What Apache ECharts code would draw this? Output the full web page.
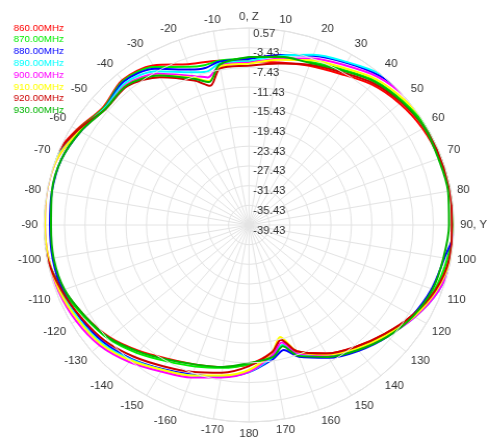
<!DOCTYPE html>
<html>
<head>
<meta charset="utf-8">
<script src="https://cdn.jsdelivr.net/npm/echarts@6/dist/echarts.min.js"></script>
<style>
html,body{margin:0;padding:0;background:#fff;overflow:hidden;width:489px;height:438px;}
#chart{width:470px;height:438px;transform:scaleX(1.04043);transform-origin:0 0;}
</style>
</head>
<body>
<div id="chart"></div>
<script>
// Angles (degrees, clockwise from Z at top)
const angles = [0,10,20,30,40,50,60,70,80,90,100,110,120,130,140,150,160,165,170,180,190,200,210,220,230,240,250,260,270,280,290,300,310,320,330,340,345,350];

// Gain values in dB
const f860 = [-6.12,-5.94,-5.02,-3.96,-2.18,-1.04,-0.28,0.12,0.42,0.20,0.28,-0.71,-2.65,-4.95,-7.10,-9.28,-12.14,-15.32,-13.25,-11.17,-10.17,-9.26,-8.04,-6.07,-3.96,-2.45,-0.91,0.67,1.38,1.60,1.11,-0.67,-2.25,-1.01,-2.01,-4.67,-5.24,-5.58];
const f870 = [-5.53,-4.76,-4.23,-2.98,-1.20,-0.26,0.51,0.52,0.61,0.40,-0.12,-0.91,-2.45,-4.56,-6.70,-8.69,-11.35,-14.14,-12.46,-11.17,-9.98,-8.86,-7.45,-5.48,-3.56,-2.26,-0.71,0.48,0.79,1.01,0.71,-0.87,-2.44,-1.21,-2.41,-5.26,-5.83,-5.58];
const f880 = [-5.72,-4.37,-2.85,-1.40,0.18,1.12,1.50,1.31,1.40,0.99,-0.71,-1.50,-2.65,-4.16,-6.11,-8.30,-10.95,-13.15,-11.87,-9.59,-8.20,-7.09,-5.67,-3.90,-2.38,-1.47,-0.71,-0.51,-0.59,-0.37,-0.47,-1.46,-2.64,-1.41,-2.80,-5.85,-6.43,-5.77];
const f890 = [-6.12,-4.56,-2.65,-1.21,0.57,1.32,1.69,1.50,1.40,1.19,0.87,-0.12,-2.06,-4.36,-6.51,-8.69,-11.35,-14.14,-12.26,-9.59,-8.20,-6.89,-5.48,-3.71,-1.99,-1.07,-0.32,0.28,0.59,0.81,0.52,-1.07,-2.64,-1.80,-3.39,-6.45,-7.21,-6.17];
const f900 = [-6.51,-5.15,-3.44,-1.99,-0.21,0.73,1.30,1.31,1.40,1.19,0.87,-0.12,-2.06,-4.36,-6.70,-8.89,-11.74,-14.73,-12.66,-9.59,-8.01,-6.50,-5.08,-3.12,-1.40,-0.48,0.07,0.28,0.40,0.61,0.32,-1.26,-2.84,-2.19,-3.98,-7.23,-8.40,-6.56];
const f910 = [-6.71,-5.35,-3.83,-2.58,-0.80,0.14,0.90,0.91,1.01,0.79,0.48,-0.52,-2.26,-4.56,-6.70,-9.08,-12.14,-15.91,-13.25,-9.99,-8.40,-6.89,-5.48,-3.51,-1.79,-0.88,-0.12,0.28,0.40,0.61,0.32,-1.26,-2.84,-2.39,-4.38,-7.63,-9.18,-6.76];
const f920 = [-7.10,-6.14,-4.82,-3.57,-1.79,-0.65,0.11,0.32,0.42,0.20,0.28,-0.71,-2.65,-4.95,-7.10,-9.28,-12.14,-15.32,-13.25,-10.77,-8.99,-7.68,-6.27,-4.50,-2.77,-1.67,-0.52,0.48,0.99,1.21,0.91,-0.87,-2.84,-2.59,-4.77,-8.22,-10.17,-7.15];
const f930 = [-5.33,-4.76,-4.43,-3.18,-1.40,-0.45,0.11,-0.08,0.02,-0.39,-0.90,-1.30,-2.45,-4.16,-6.31,-8.49,-11.15,-13.94,-12.26,-11.37,-10.17,-9.26,-7.84,-5.87,-3.76,-2.45,-1.11,-0.71,-0.79,-0.37,-0.47,-1.46,-2.84,-2.39,-4.38,-7.83,-9.38,-6.37];

const seriesNames = ['860.00MHz','870.00MHz','880.00MHz','890.00MHz','900.00MHz','910.00MHz','920.00MHz','930.00MHz'];
const seriesColors = ['#ff0000','#00ee00','#0000ff','#00ffff','#ff00ff','#ffff00','#cc0000','#00b400'];
const seriesValues = [f860,f870,f880,f890,f900,f910,f920,f930];

// Radial scale: labels from -39.43 (centre) to 0.57 (outer) in steps of 4
const radialMinDb = -39.43;
const radialTicks = ['-39.43','-35.43','-31.43','-27.43','-23.43','-19.43','-15.43','-11.43','-7.43','-3.43','0.57'];

const FONT = '"Liberation Sans", Arial, sans-serif';

function toData(vals){
  const d = vals.map((v,i)=>[v - radialMinDb, angles[i]]);
  d.push([vals[0] - radialMinDb, 360]);
  return d;
}

const chart = echarts.init(document.getElementById('chart'), null, {renderer:'canvas'});
chart.setOption({
  backgroundColor:'#ffffff',
  animation:false,
  legend:{
    orient:'vertical', left:3, top:17,
    itemWidth:0, itemHeight:10, itemGap:0,
    icon:'rect',
    selectedMode:false,
    data: seriesNames.map((n,i)=>({name:n, textStyle:{color:seriesColors[i]}})),
    textStyle:{fontSize:9.5, lineHeight:11.8, fontFamily:FONT}
  },
  polar:{center:[239.3,225], radius:197},
  angleAxis:{
    type:'value', min:0, max:360, interval:10,
    startAngle:90, clockwise:true,
    axisLine:{show:true, lineStyle:{color:'#dcdcdc', width:1}},
    axisTick:{show:false},
    splitLine:{show:true, lineStyle:{color:'#e4e4e4', width:1}},
    axisLabel:{
      margin:6, color:'#333', fontSize:11, fontFamily:FONT,
      formatter:function(v){
        if (v===0) return '0, Z';
        if (v===90) return '90, Y';
        if (v===360) return '';
        if (v>180) return String(v-360);
        return String(v);
      }
    }
  },
  radiusAxis:{
    type:'value', min:0, max:40, interval:4, z:20,
    axisLine:{show:false}, axisTick:{show:false},
    splitLine:{show:true, lineStyle:{color:'#e4e4e4', width:1}},
    axisLabel:{
      color:'#333', fontSize:11, fontFamily:FONT,
      margin:-4, align:'left', verticalAlign:'top',
      formatter:function(v){ return radialTicks[Math.round(v/4)]; }
    }
  },
  series: seriesValues.map((vals,i)=>({
    name: seriesNames[i],
    type:'line',
    coordinateSystem:'polar',
    data: toData(vals),
    showSymbol:false,
    smooth:0.3,
    clip:false,
    z:2,
    lineStyle:{color:seriesColors[i], width:2},
    itemStyle:{color:seriesColors[i]}
  }))
});
</script>
</body>
</html>
